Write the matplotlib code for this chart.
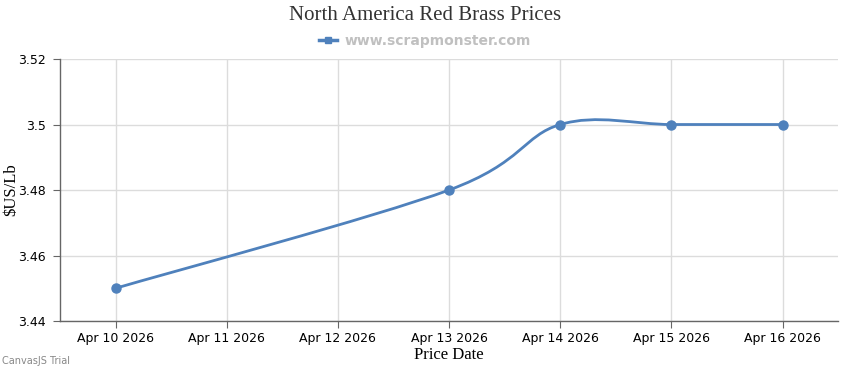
import numpy as np
import matplotlib
matplotlib.use("Agg")
import matplotlib.pyplot as plt
from matplotlib.path import Path
from matplotlib.patches import PathPatch
from matplotlib.lines import Line2D

# data
dates = ["Apr 10 2026", "Apr 11 2026", "Apr 12 2026", "Apr 13 2026",
         "Apr 14 2026", "Apr 15 2026", "Apr 16 2026"]
point_idx = [0, 3, 4, 5, 6]
prices = [3.45, 3.48, 3.50, 3.50, 3.50]
y_ticks = [3.44, 3.46, 3.48, 3.50, 3.52]
y_tick_labels = ["3.44", "3.46", "3.48", "3.5", "3.52"]

blue = "#4F81BC"
grid = "#dcdcdc"
axis_col = "#666666"

fig = plt.figure(figsize=(8.5, 3.7), dpi=100)
ax = fig.add_axes([0.0706, 0.1324, 0.9154, 0.7081])

# spline through the points, same bezier rule as canvasjs (tension 2)
P = np.column_stack([point_idx, prices]).astype(float)
n = len(P)
verts = [P[0]]
codes = [Path.MOVETO]
for i in range(1, n):
    a = i - 1
    a1 = 0 if a == 0 else a - 1
    cp1 = P[a] + (P[i] - P[a1]) / 6.0
    b1 = i - 1
    b2 = i if i == n - 1 else i + 1
    cp2 = P[i] - (P[b2] - P[b1]) / 6.0
    verts += [cp1, cp2, P[i]]
    codes += [Path.CURVE4] * 3
ax.add_patch(PathPatch(Path(verts, codes), fill=False, edgecolor=blue, lw=2, zorder=3))
ax.plot(point_idx, prices, "o", color=blue, ms=6.5, zorder=4)

ax.set_xlim(-0.5, 6.5)
ax.set_ylim(3.44, 3.52)
ax.set_xticks(range(len(dates)))
ax.set_xticklabels(dates)
ax.set_yticks(y_ticks)
ax.set_yticklabels(y_tick_labels)
ax.grid(True, color=grid, lw=1)
ax.set_axisbelow(True)
for s in ["top", "right"]:
    ax.spines[s].set_visible(False)
for s in ["left", "bottom"]:
    ax.spines[s].set_color(axis_col)
    ax.spines[s].set_linewidth(1)
ax.tick_params(length=5, color=axis_col, labelsize=9, labelcolor="#000000", pad=5)
ax.tick_params(axis="x", pad=3)

ax.set_xlabel("Price Date", family="Liberation Serif", fontsize=12, labelpad=1)
ax.set_ylabel("$US/Lb".replace("$", r"\$"), family="Liberation Serif", fontsize=12)
ax.yaxis.set_label_coords(-0.053, 0.5)

fig.text(0.5, 0.957, "North America Red Brass Prices", ha="center", va="center",
         family="Liberation Serif", fontsize=15, color="#333333")

# legend
leg_handle = Line2D([], [], color=blue, lw=2.5, marker="s", ms=5)
fig.legend([leg_handle], ["www.scrapmonster.com"], loc="center", bbox_to_anchor=(0.5, 0.89),
           frameon=False, handlelength=1.3, handletextpad=0.5,
           prop={"weight": "bold", "size": 10}, labelcolor="#c0c0c0")

fig.text(0.002, 0.012, "CanvasJS Trial", fontsize=7, color="#888888", ha="left", va="bottom")

fig.savefig("out.png", dpi=100)
